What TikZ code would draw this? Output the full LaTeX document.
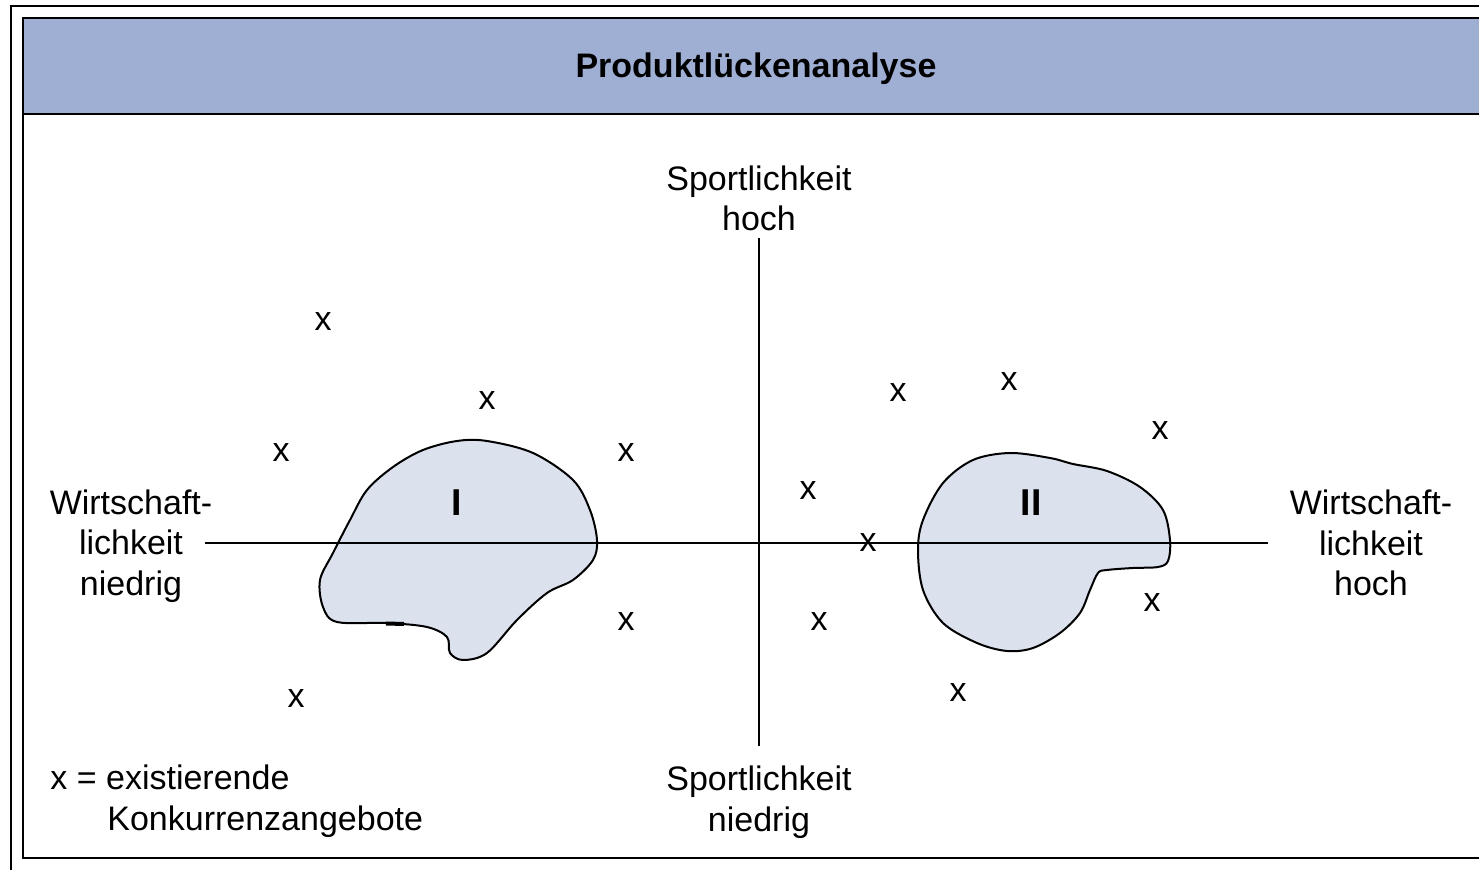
\documentclass[tikz,border=0pt]{standalone}
\usepackage{fontspec}
\setmainfont{Liberation Sans}
\definecolor{headblue}{HTML}{9FAFD3}
\definecolor{blobfill}{HTML}{DCE1EE}
\begin{document}
\begin{tikzpicture}[x=0.5pt,y=-0.5pt,
  lbl/.style={font=\fontsize{17}{20.25}\selectfont, inner sep=0pt, align=center},
  xmark/.style={font=\fontsize{17}{20.25}\selectfont, inner sep=0pt, anchor=base},
  roman/.style={font=\fontsize{17}{20.25}\selectfont\bfseries, inner sep=0pt, anchor=base},
  frameline/.style={line width=0.7pt},
  axis/.style={line width=0.9pt},
  blob/.style={draw=black, line width=1pt, fill=blobfill}]
\useasboundingbox (0,0) rectangle (1479,870);
\clip (0,0) rectangle (1479,870);
% outer frame lines
\draw[frameline] (11,875) -- (11,6) -- (1490,6);
% inner box with header
\fill[headblue] (23,18) rectangle (1495,114);
\draw[line width=0.9pt] (23,18) rectangle (1495,858);
\draw[line width=0.9pt] (23,114) -- (1495,114);
\node[roman] (title) at (756,78) {Produktlückenanalyse};
% blobs
\draw[blob] plot[smooth cycle, tension=0.55] coordinates {
 (457,441) (487,441) (533,453) (573,480) (590,510) (597,540) (593,560)
 (573,580) (547,593) (517,620) (487,653) (463,660) (450,653) (447,637)
 (427,627) (387,623) (337,622) (323,607) (320,580) (333,553) (350,520)
 (367,490) (393,467) (423,450)};
\draw[line width=2pt] (386,623.5) -- (404,624);
\draw[blob] plot[smooth cycle, tension=0.55] coordinates {
 (1010,453) (1050,458) (1073,464) (1107,471) (1140,487) (1163,510) (1170,540)
 (1168,561) (1158,567) (1133,568) (1107,570) (1098,573) (1090,590) (1080,613)
 (1060,633) (1033,648) (1007,651) (977,643) (943,623) (923,590) (918,550)
 (923,520) (943,483) (973,460)};
% axes
\coordinate (yt) at (759,238);
\coordinate (yb) at (759,746);
\coordinate (xl) at (205,543);
\coordinate (xr) at (1268,543);
\draw[axis] (yt) -- (yb);
\draw[axis] (xl) -- (xr);
% axis labels
\node[lbl] (shoch) at (759,198.5) {Sportlichkeit\\hoch};
\node[lbl] (sniedrig) at (759,802) {Sportlichkeit\\niedrig};
\node[lbl] (wniedrig) at (131,546) {Wirtschaft-\\lichkeit\\niedrig};
\node[lbl] (whoch) at (1371,543) {Wirtschaft-\\lichkeit\\hoch};
% region labels
\node[roman, scale=1.1] (r1) at (457,516) {I};
\node[roman, scale=1.1] (r2) at (1031,516) {II};
% competitor marks
\node[xmark] (x1) at (323,331) {x};
\node[xmark] (x2) at (487,410) {x};
\node[xmark] (x3) at (281,462) {x};
\node[xmark] (x4) at (626,462) {x};
\node[xmark] (x5) at (626,631) {x};
\node[xmark] (x6) at (296,708) {x};
\node[xmark] (x7) at (808,500) {x};
\node[xmark] (x8) at (868,552) {x};
\node[xmark] (x9) at (898,402) {x};
\node[xmark] (x10) at (1009,391) {x};
\node[xmark] (x11) at (1160,440) {x};
\node[xmark] (x12) at (1152,612) {x};
\node[xmark] (x13) at (958,702) {x};
\node[xmark] (x14) at (819,631) {x};
% legend
\node[xmark, anchor=base west] (leg1) at (50,790) {x = existierende};
\node[xmark, anchor=base west] (leg2) at (107,831) {Konkurrenzangebote};
\end{tikzpicture}
\end{document}
